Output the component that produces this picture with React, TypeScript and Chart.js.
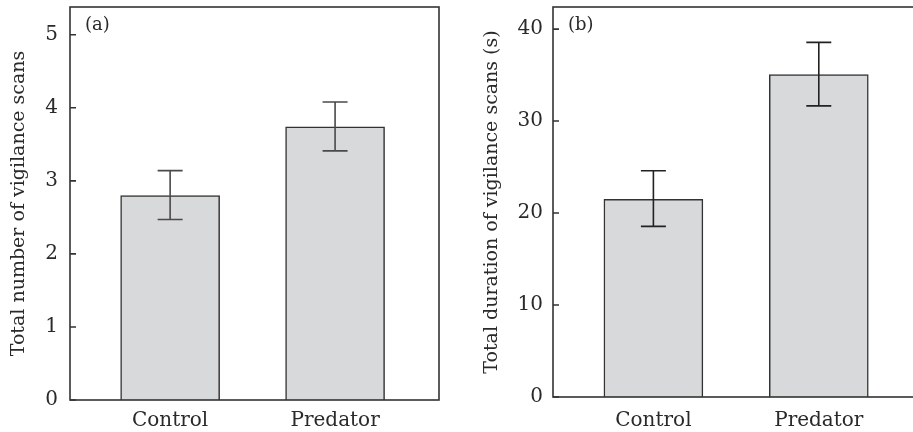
import React, { useEffect, useRef } from "react";
import { Chart, registerables } from "chart.js";
Chart.register(...registerables);

const categories = ["Control", "Predator"];
const scansMean = [2.8, 3.74];
const scansLow = [2.47, 3.41];
const scansHigh = [3.14, 4.08];
const durationMean = [21.5, 35.05];
const durationLow = [18.55, 31.65];
const durationHigh = [24.6, 38.55];
const scansTicks = [0, 1, 2, 3, 4, 5];
const durationTicks = [0, 10, 20, 30, 40];

const FONT = '"DejaVu Serif", serif';
const TEXT = "#2a2a2a";
const LINE = "#333333";
const FILL = "#d8d9db";

type PanelCfg = {
  label: string;
  title: string;
  mean: number[];
  low: number[];
  high: number[];
  ticks: number[];
  yMax: number;
  yAxisWidth: number;
  xAxisHeight: number;
  rightPad: number;
  titlePad: number;
  tickPad: number;
  xTickPad: number;
  errColor: string;
};

function makeChart(canvas: HTMLCanvasElement, p: PanelCfg) {
  const overlay = {
    id: "overlay",
    afterDatasetsDraw(chart: any) {
      const { ctx, chartArea: a, scales } = chart;
      const x = scales.x;
      const y = scales.y;
      ctx.save();
      // error bars
      ctx.strokeStyle = p.errColor;
      ctx.lineWidth = 1.6;
      const cap = 12.5;
      p.mean.forEach((_, i) => {
        const px = x.getPixelForValue(i);
        const yl = y.getPixelForValue(p.low[i]);
        const yh = y.getPixelForValue(p.high[i]);
        ctx.beginPath();
        ctx.moveTo(px, yh);
        ctx.lineTo(px, yl);
        ctx.moveTo(px - cap, yh);
        ctx.lineTo(px + cap, yh);
        ctx.moveTo(px - cap, yl);
        ctx.lineTo(px + cap, yl);
        ctx.stroke();
      });
      // frame
      ctx.lineWidth = 1.6;
      ctx.strokeStyle = LINE;
      ctx.strokeRect(a.left, a.top, a.right - a.left, a.bottom - a.top);
      // inward y ticks
      ctx.beginPath();
      y.ticks.forEach((t: any) => {
        const py = y.getPixelForValue(t.value);
        ctx.moveTo(a.left, py);
        ctx.lineTo(a.left + 6, py);
      });
      ctx.stroke();
      // panel label
      ctx.fillStyle = TEXT;
      ctx.font = `18px ${FONT}`;
      ctx.textBaseline = "middle";
      ctx.textAlign = "left";
      ctx.fillText(p.label, a.left + 15, a.top + 18);
      ctx.restore();
    },
  };

  return new Chart(canvas, {
    type: "bar",
    data: {
      datasets: [
        {
          data: p.mean.map((v, i) => ({ x: i, y: v })),
          backgroundColor: FILL,
          borderColor: LINE,
          borderWidth: 1.5,
          barThickness: 99,
        },
      ],
    },
    options: {
      animation: false,
      responsive: false,
      maintainAspectRatio: false,
      layout: { padding: { left: 0, top: 7, right: p.rightPad, bottom: 0 } },
      plugins: { legend: { display: false }, tooltip: { enabled: false } },
      scales: {
        x: {
          type: "linear",
          min: -0.607,
          max: 1.63,
          offset: false,
          bounds: "data",
          grid: { display: false, drawTicks: false, offset: false },
          border: { display: false },
          afterBuildTicks: (s: any) => {
            s.ticks = categories.map((_, i) => ({ value: i }));
          },
          afterFit: (s: any) => {
            s.height = p.xAxisHeight;
            s.paddingLeft = 0;
            s.paddingRight = 0;
          },
          ticks: {
            padding: p.xTickPad,
            color: TEXT,
            font: { family: FONT, size: 20 },
            maxRotation: 0,
            autoSkip: false,
            callback: (v: any) => categories[Math.round(Number(v))] ?? "",
          },
        },
        y: {
          type: "linear",
          min: 0,
          max: p.yMax,
          bounds: "data",
          grid: { display: false, drawTicks: false },
          border: { display: false },
          afterBuildTicks: (s: any) => {
            s.ticks = p.ticks.map((v) => ({ value: v }));
          },
          afterFit: (s: any) => {
            s.width = p.yAxisWidth;
            s.paddingTop = 0;
            s.paddingBottom = 0;
          },
          ticks: {
            padding: p.tickPad,
            color: TEXT,
            font: { family: FONT, size: 20 },
            callback: (v: any) => String(v),
          },
          title: {
            display: true,
            text: p.title,
            color: TEXT,
            font: { family: FONT, size: 19 },
            padding: { top: p.titlePad, bottom: 0 },
          },
        },
      },
    },
    plugins: [overlay],
  } as any);
}

export default function App() {
  const refA = useRef<HTMLCanvasElement>(null);
  const refB = useRef<HTMLCanvasElement>(null);

  useEffect(() => {
    const a = makeChart(refA.current!, {
      label: "(a)",
      title: "Total number of vigilance scans",
      mean: scansMean,
      low: scansLow,
      high: scansHigh,
      ticks: scansTicks,
      yMax: 5.38,
      yAxisWidth: 70,
      xAxisHeight: 32,
      rightPad: 11,
      titlePad: 8,
      tickPad: 12,
      xTickPad: 9,
      errColor: "#4a4a4a",
    });
    const b = makeChart(refB.current!, {
      label: "(b)",
      title: "Total duration of vigilance scans (s)",
      mean: durationMean,
      low: durationLow,
      high: durationHigh,
      ticks: durationTicks,
      yMax: 42.4,
      yAxisWidth: 103,
      xAxisHeight: 35,
      rightPad: 27,
      titlePad: 31,
      tickPad: 10,
      xTickPad: 12,
      errColor: "#222222",
    });
    return () => {
      a.destroy();
      b.destroy();
    };
  }, []);

  return (
    <div
      style={{
        position: "fixed",
        left: 0,
        top: 0,
        width: 913,
        height: 432,
        overflow: "hidden",
        background: "#fff",
      }}
    >
      <canvas
        ref={refA}
        width={450}
        height={432}
        style={{ position: "absolute", left: 0, top: 0 }}
      />
      <canvas
        ref={refB}
        width={500}
        height={432}
        style={{ position: "absolute", left: 450, top: 0 }}
      />
    </div>
  );
}
